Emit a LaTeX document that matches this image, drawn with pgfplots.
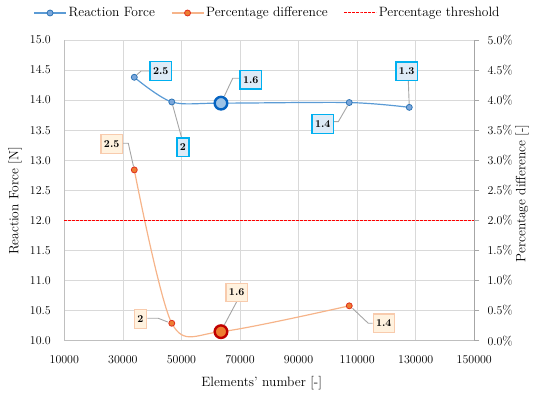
\documentclass[border=0pt]{standalone}
\usepackage{pgfplots}
\pgfplotsset{compat=1.18}
\definecolor{gridc}{HTML}{D9D9D9}
\definecolor{axisL}{HTML}{BFBFBF}
\definecolor{axisR}{HTML}{A6A6A6}
\definecolor{bline}{HTML}{5B9BD5}
\definecolor{bfill}{HTML}{7BA7DB}
\definecolor{bdraw}{HTML}{2E75B6}
\definecolor{bbig}{HTML}{9DC3E6}
\definecolor{bbigdraw}{HTML}{0563C1}
\definecolor{oline}{HTML}{F6B48A}
\definecolor{ofill}{HTML}{ED7D31}
\definecolor{odraw}{HTML}{E0301E}
\definecolor{obigdraw}{HTML}{C00000}
\definecolor{boxbfill}{HTML}{DEEBF7}
\definecolor{boxbdraw}{HTML}{00B0F0}
\definecolor{boxofill}{HTML}{FFF2DF}
\definecolor{boxodraw}{HTML}{F8CBAD}
\definecolor{leader}{HTML}{A6A6A6}
\begin{document}
\begin{tikzpicture}[font=\fontsize{13.5bp}{16bp}\selectfont]
\path[use as bounding box] (0,0) rectangle (537bp,397bp);
% left axis: reaction force
\begin{axis}[
  at={(64.3bp,56.3bp)}, anchor=south west,
  scale only axis, width=410bp, height=300.7bp,
  xmin=10000, xmax=150000, ymin=10, ymax=15,
  xtick={10000,30000,50000,70000,90000,110000,130000,150000},
  ytick={10,10.5,11,11.5,12,12.5,13,13.5,14,14.5,15},
  grid=major, grid style={draw=gridc, line width=0.7bp},
  axis x line*=bottom, axis y line*=left,
  axis line style={draw=axisL, line width=0.9bp, -},
  major tick length=0pt,
  scaled x ticks=false,
  xticklabel={\pgfmathprintnumber[fixed,precision=0,1000 sep={}]{\tick}},
  tick label style={font=\fontsize{12.5bp}{14bp}\selectfont},
  xticklabel style={anchor=center, inner sep=0pt, yshift=-19.3bp},
  yticklabel style={/pgf/number format/.cd, fixed, fixed zerofill, precision=1, /tikz/.cd, anchor=east, inner sep=0pt, xshift=-13.3bp},
  xlabel={Elements' number [-]},
  ylabel={Reaction Force [N]},
  every axis x label/.style={at={(axis description cs:0.4815,-0.1397)}, anchor=center},
  every axis y label/.style={at={(axis description cs:-0.1202,0.4646)}, rotate=90, anchor=center},
  clip=false,
]
\addplot[bline, line width=1.2bp, smooth, mark=*, mark size=3bp,
  mark options={fill=bfill, draw=bdraw, line width=0.8bp}]
  coordinates {(33900,14.38) (46700,13.97) (63500,13.95) (107300,13.96) (127800,13.88)};
\addplot[only marks, mark=*, mark size=6.3bp,
  mark options={fill=bbig, draw=bbigdraw, line width=2.4bp}]
  coordinates {(63500,13.95)};
\end{axis}
% right axis: percentage difference
\begin{axis}[
  at={(64.3bp,56.3bp)}, anchor=south west,
  scale only axis, width=410bp, height=300.7bp,
  xmin=10000, xmax=150000, ymin=0, ymax=5,
  hide x axis,
  axis y line*=right,
  axis line style={draw=axisR, line width=0.9bp, -},
  ytick={0,0.5,1,1.5,2,2.5,3,3.5,4,4.5,5},
  yticklabel={\pgfmathprintnumber[fixed,fixed zerofill,precision=1]{\tick}\%},
  tick label style={font=\fontsize{12.5bp}{14bp}\selectfont},
  yticklabel style={anchor=west, inner sep=0pt, xshift=8bp},
  tick style={draw=axisR, line width=0.9bp},
  major tick length=5bp, tick align=outside,
  ylabel={Percentage difference [-]},
  every axis y label/.style={at={(axis description cs:1.1163,0.49)}, rotate=90, anchor=center},
  legend columns=3,
  legend style={draw=none, fill=none, at={(axis description cs:0.4956,1.0898)}, anchor=center,
    font=\fontsize{13.5bp}{16bp}\selectfont,
    /tikz/every even column/.append style={column sep=14bp}},
  legend image code/.code={\draw[mark repeat=2, mark phase=2] plot coordinates {(0bp,0bp) (16bp,0bp) (32bp,0bp)};},
  clip=false,
]
\addlegendimage{bline, line width=1.2bp, mark=*, mark size=3bp, mark options={fill=bfill, draw=bdraw, line width=0.8bp}}
\addlegendentry{Reaction Force}
\addplot[oline, line width=1.2bp, smooth, mark=*, mark size=3bp,
  mark options={fill=ofill, draw=odraw, line width=0.8bp}]
  coordinates {(33900,2.84) (46700,0.29) (63500,0.15) (107300,0.58)};
\addlegendentry{Percentage difference}
\addplot[red, line width=1bp, dash pattern=on 2.5bp off 1.5bp]
  coordinates {(10000,2) (150000,2)};
\addlegendentry{Percentage threshold}
\addplot[only marks, mark=*, mark size=6.3bp, forget plot,
  mark options={fill=ofill, draw=obigdraw, line width=2.4bp}]
  coordinates {(63500,0.15)};
\end{axis}
% callouts
\begin{scope}[x=1bp, y=1bp,
  ld/.style={draw=leader, line width=0.9bp},
  bb/.style={draw=boxbdraw, fill=boxbfill, line width=1.3bp, font=\fontsize{10.5bp}{12bp}\selectfont\bfseries, inner xsep=3bp, inner ysep=0pt, minimum height=18.5bp},
  ob/.style={draw=boxodraw, fill=boxofill, line width=1.1bp, font=\fontsize{10.5bp}{12bp}\selectfont\bfseries, inner xsep=3bp, inner ysep=0pt, minimum height=18.5bp}]
\draw[ld, shorten <=3.5bp] (134.3,319.7) -- (141,326) -- (150,326);
\draw[ld, shorten <=3.5bp] (171.7,295.3) -- (181.7,259);
\draw[ld, shorten <=7.5bp] (221,293.7) -- (232.7,318.7) -- (240,318.7);
\draw[ld, shorten <=3.5bp] (349.3,294.3) -- (338.3,275.3) -- (333.3,275.3);
\draw[ld, shorten <=3.5bp] (409.3,289.7) -- (408.3,316.5);
\draw[ld, shorten <=3.5bp] (134.3,227) -- (128.3,253.7) -- (122.5,253.7);
\draw[ld, shorten <=3.5bp] (171,73.7) -- (158.3,78.7) -- (147.3,78.7);
\draw[ld, shorten <=7.5bp] (220.7,65.3) -- (236.7,95.3);
\draw[ld, shorten <=3.5bp] (350,91) -- (368.3,73.7) -- (372.7,73.7);
\node[bb] at (160.8,326) {2.5};
\node[bb] at (183,249.7) {2};
\node[bb] at (250.8,317.3) {1.6};
\node[bb] at (322.8,273) {1.4};
\node[bb] at (406.7,325.8) {1.3};
\node[ob] at (111.7,252.8) {2.5};
\node[ob] at (140.3,77.8) {2};
\node[ob] at (236.7,104.5) {1.6};
\node[ob] at (383.8,73.7) {1.4};
\end{scope}
\end{tikzpicture}
\end{document}
